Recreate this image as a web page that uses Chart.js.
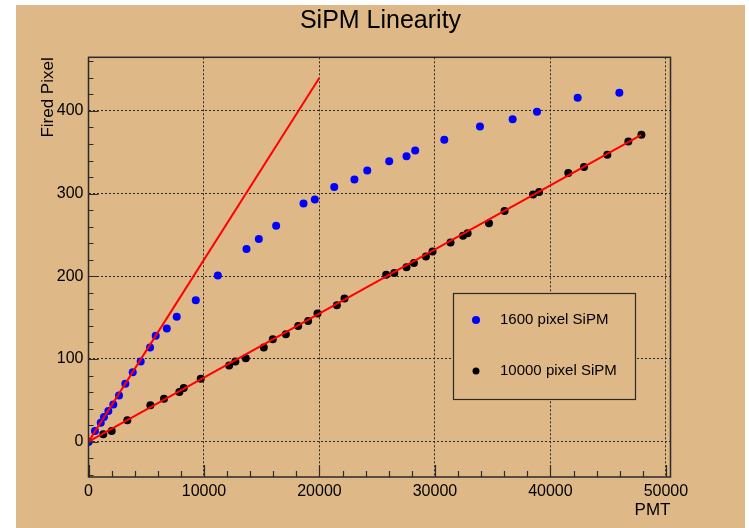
<!DOCTYPE html>
<html>
<head>
<meta charset="utf-8">
<title>SiPM Linearity</title>
<script src="https://cdn.jsdelivr.net/npm/chart.js@4.4.1/dist/chart.umd.min.js"></script>
<style>
  html, body { margin: 0; padding: 0; background: #fff; }
</style>
</head>
<body>
<canvas id="chart" width="749" height="528"></canvas>
<script>
// 1600 pixel SiPM
const pmt1600 = [0, 560, 1060, 1340, 1720, 2150, 2640, 3190, 3830, 4520, 5330, 5820, 6780, 7640, 9290,
  11200, 13680, 14750, 16250, 18620, 19600, 21280, 23030, 24140, 26040, 27540, 28290, 30810,
  33900, 36730, 38840, 42360, 45970];
const fired1600 = [0, 13, 23, 30, 37, 45, 56, 70, 84, 97, 114, 128, 137, 151, 171,
  201, 233, 245, 261, 288, 293, 308, 317, 328, 339, 345, 352, 365,
  381, 390, 399, 416, 422];

// 10000 pixel SiPM
const pmt10000 = [0, 1280, 2010, 3360, 5360, 6540, 7870, 8250, 9720, 12180, 12720, 13620, 15180,
  15960, 17090, 18160, 19020, 19830, 21510, 22170, 25780, 26480, 27540, 28180, 29220, 29790,
  31350, 32430, 32830, 34680, 36030, 38500, 39020, 41550, 42910, 44930, 46750, 47880];
const fired10000 = [0, 9, 13, 26, 44, 52, 60, 65, 76, 92, 97, 101, 114,
  124, 130, 140, 146, 155, 165, 173, 202, 204, 211, 216, 224, 230,
  241, 249, 252, 264, 279, 299, 302, 325, 332, 347, 363, 371];

// linear fits
const fit1600X = [0, 20000];
const fit1600Y = [0, 440];
const fit10000X = [0, 47880];
const fit10000Y = [0, 371];

const xTicks = [0, 10000, 20000, 30000, 40000, 50000];
const yTicks = [0, 100, 200, 300, 400];
const seriesLabels = ['1600 pixel SiPM', '10000 pixel SiPM'];

const TAN = '#deb887';
const INK = '#2a2a2a';

function pts(xs, ys) {
  return xs.map((x, i) => ({ x: x, y: ys[i] }));
}

Chart.defaults.font.family = '"Liberation Sans", Arial, Helvetica, sans-serif';
Chart.defaults.color = '#000';

// canvas background (white margin + tan pad)
const padBg = {
  id: 'padBg',
  beforeDraw(chart) {
    const ctx = chart.ctx;
    ctx.save();
    ctx.fillStyle = '#fff';
    ctx.fillRect(0, 0, chart.width, chart.height);
    ctx.fillStyle = TAN;
    ctx.fillRect(16, 5, 729, chart.height - 5);
    ctx.restore();
  }
};

// frame + inside tick marks, ROOT style
const frame = {
  id: 'frame',
  afterDatasetsDraw(chart) {
    const { ctx, chartArea: a, scales } = chart;
    const xs = scales.x, ys = scales.y;
    ctx.save();
    ctx.strokeStyle = INK;
    ctx.lineWidth = 1.2;
    ctx.beginPath();
    for (let v = 0; v <= xs.max; v += 2000) {
      const px = Math.round(xs.getPixelForValue(v)) + 0.5;
      const len = v % 10000 === 0 ? 12 : 6;
      ctx.moveTo(px, a.bottom);
      ctx.lineTo(px, a.bottom - len);
    }
    for (let v = -40; v <= ys.max; v += 20) {
      const py = Math.round(ys.getPixelForValue(v)) + 0.5;
      const len = v % 100 === 0 ? 10 : 5;
      ctx.moveTo(a.left, py);
      ctx.lineTo(a.left + len, py);
    }
    ctx.stroke();
    ctx.lineWidth = 1.5;
    ctx.strokeRect(a.left, a.top, a.right - a.left, a.bottom - a.top);
    ctx.restore();
  }
};

// boxed legend inside the pad
const boxLegend = {
  id: 'boxLegend',
  afterDraw(chart) {
    const ctx = chart.ctx;
    const bx = 453, by = 293, bw = 182, bh = 106;
    ctx.save();
    ctx.fillStyle = TAN;
    ctx.fillRect(bx, by, bw, bh);
    ctx.strokeStyle = INK;
    ctx.lineWidth = 1.2;
    ctx.strokeRect(bx + 0.5, by + 0.5, bw, bh);
    ctx.font = '15px "Liberation Sans", Arial, sans-serif';
    ctx.textBaseline = 'middle';
    ctx.textAlign = 'left';
    [0, 1].forEach((k, i) => {
      const ds = chart.data.datasets.find(d => d.label === seriesLabels[k]);
      const cy = by + 27 + i * 51;
      ctx.fillStyle = ds.backgroundColor;
      ctx.beginPath();
      ctx.arc(bx + 23, cy, i === 0 ? 4 : 3.5, 0, Math.PI * 2);
      ctx.fill();
      ctx.fillStyle = '#000';
      ctx.fillText(seriesLabels[k], bx + 47, cy);
    });
    ctx.restore();
  }
};

new Chart(document.getElementById('chart'), {
  type: 'scatter',
  data: {
    datasets: [{
      label: 'fit 1600',
      data: pts(fit1600X, fit1600Y),
      showLine: true,
      borderColor: '#ff0000',
      borderWidth: 2,
      pointRadius: 0,
      order: 0
    }, {
      label: 'fit 10000',
      data: pts(fit10000X, fit10000Y),
      showLine: true,
      borderColor: '#ff0000',
      borderWidth: 2,
      pointRadius: 0,
      order: 0
    }, {
      label: seriesLabels[0],
      data: pts(pmt1600, fired1600),
      backgroundColor: '#0000ff',
      borderWidth: 0,
      pointRadius: 4,
      order: 1
    }, {
      label: seriesLabels[1],
      data: pts(pmt10000, fired10000),
      backgroundColor: '#000000',
      borderWidth: 0,
      pointRadius: 4,
      order: 2
    }]
  },
  options: {
    responsive: false,
    animation: false,
    layout: { padding: { left: 16, right: 4, top: 0, bottom: 0 } },
    plugins: {
      legend: { display: false },
      tooltip: { enabled: false },
      title: {
        display: true,
        text: 'SiPM Linearity',
        color: '#000',
        font: { size: 25, weight: 'normal' },
        padding: { top: 6, bottom: 21.3 }
      }
    },
    scales: {
      x: {
        type: 'linear',
        min: 0,
        max: 50400,
        afterBuildTicks: s => { s.ticks = xTicks.map(v => ({ value: v })); },
        afterFit: s => { s.height = 51; },
        grid: { color: INK, lineWidth: 1, drawTicks: false },
        border: { display: false, dash: [2, 2] },
        ticks: { font: { size: 16 }, padding: 5, maxRotation: 0, callback: v => String(v) },
        title: {
          display: true, text: 'PMT', align: 'end',
          font: { size: 17 }, padding: { top: 0, bottom: 7 }
        }
      },
      y: {
        type: 'linear',
        position: 'left',
        min: -42.7,
        max: 464.8,
        afterBuildTicks: s => { s.ticks = yTicks.map(v => ({ value: v })); },
        afterFit: s => { s.width = 72.5; },
        grid: { color: INK, lineWidth: 1, drawTicks: false },
        border: { display: false, dash: [2, 2] },
        ticks: { font: { size: 16 }, padding: 5, callback: v => String(v) },
        title: {
          display: true, text: 'Fired Pixel', align: 'end',
          font: { size: 17 }, padding: { top: 22, bottom: 0 }
        }
      },
      yRight: {
        type: 'linear',
        position: 'right',
        min: -42.7,
        max: 464.8,
        afterFit: s => { s.width = 74.5; },
        grid: { display: false },
        border: { display: false },
        ticks: { display: false }
      }
    }
  },
  plugins: [padBg, frame, boxLegend]
});
</script>
</body>
</html>
